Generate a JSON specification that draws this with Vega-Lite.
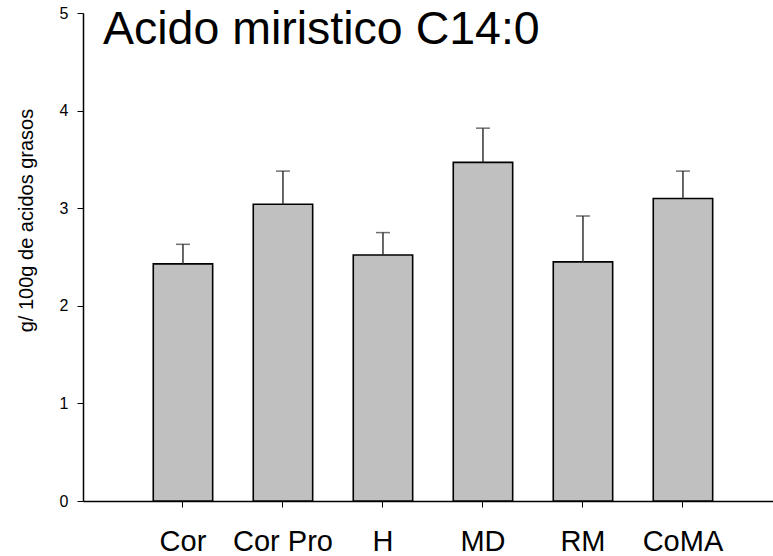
{
  "$schema": "https://vega.github.io/schema/vega-lite/v6.json",
  "autosize": "none",
  "width": 690,
  "height": 488,
  "padding": {"left": 83, "top": 13, "right": 0, "bottom": 55},
  "background": "white",
  "title": {
    "text": "Acido miristico C14:0",
    "anchor": "start",
    "frame": "group",
    "orient": "top",
    "font": "Liberation Sans",
    "fontSize": 46.5,
    "fontWeight": "normal",
    "color": "black",
    "baseline": "alphabetic",
    "offset": -85,
    "dx": 20
  },
  "data": {
    "values": [
      {"grupo": "Cor", "valor": 2.43, "superior": 2.63},
      {"grupo": "Cor Pro", "valor": 3.04, "superior": 3.38},
      {"grupo": "H", "valor": 2.52, "superior": 2.75},
      {"grupo": "MD", "valor": 3.47, "superior": 3.82},
      {"grupo": "RM", "valor": 2.45, "superior": 2.92},
      {"grupo": "CoMA", "valor": 3.10, "superior": 3.38}
    ]
  },
  "encoding": {
    "x": {
      "field": "grupo",
      "type": "nominal",
      "sort": null,
      "scale": {"paddingInner": 0.406, "paddingOuter": 0.653, "align": 0.538},
      "axis": {
        "title": null,
        "labelAngle": 0,
        "labelFont": "Liberation Sans",
        "labelFontSize": 29,
        "labelFontWeight": "normal",
        "labelColor": "black",
        "labelPadding": 20,
        "tickSize": 6,
        "tickColor": "black",
        "tickWidth": 1,
        "domainColor": "black",
        "domainWidth": 1.5,
        "grid": false
      }
    }
  },
  "layer": [
    {
      "mark": {"type": "bar", "fill": "#c0c0c0", "stroke": "black", "strokeWidth": 1.6},
      "encoding": {
        "y": {
          "field": "valor",
          "type": "quantitative",
          "scale": {"domain": [0, 5], "nice": false},
          "axis": {
            "title": "g/ 100g de acidos grasos",
            "titleFont": "Liberation Sans",
            "titleFontSize": 20,
            "titleFontWeight": "normal",
            "titleColor": "black",
            "titleX": -47,
            "titleY": 207,
            "values": [0, 1, 2, 3, 4, 5],
            "format": "d",
            "labelFont": "Liberation Sans",
            "labelFontSize": 16,
            "labelFontWeight": "normal",
            "labelColor": "black",
            "labelPadding": 9,
            "tickSize": 6,
            "tickColor": "black",
            "tickWidth": 1,
            "domainColor": "black",
            "domainWidth": 1.5,
            "grid": false
          }
        }
      }
    },
    {
      "mark": {"type": "rule", "color": "#333333", "strokeWidth": 1.5},
      "encoding": {
        "y": {"field": "valor", "type": "quantitative"},
        "y2": {"field": "superior"}
      }
    },
    {
      "mark": {"type": "tick", "color": "#333333", "size": 14, "thickness": 1.5, "orient": "horizontal"},
      "encoding": {
        "y": {"field": "superior", "type": "quantitative"}
      }
    }
  ],
  "config": {
    "view": {"stroke": null}
  }
}
